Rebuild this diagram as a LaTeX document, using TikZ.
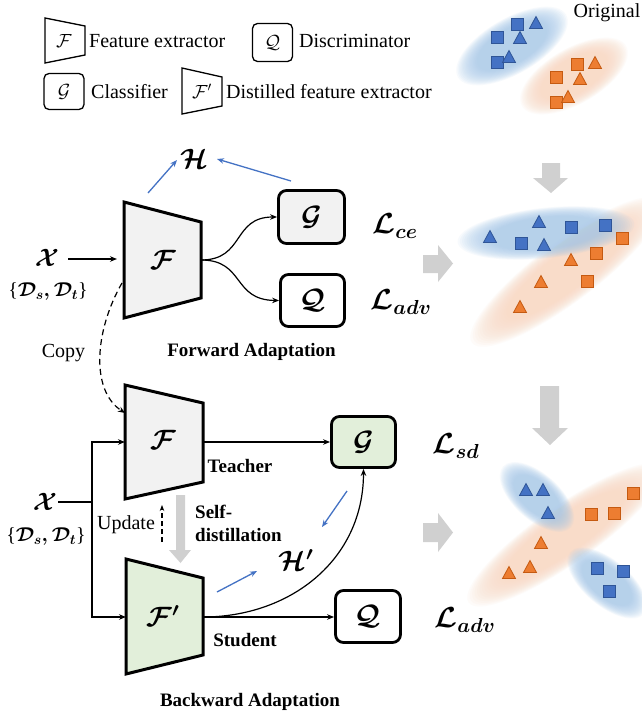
\RequirePackage{fix-cm}
\documentclass[tikz,border=0pt]{standalone}
\usepackage{amsmath}
\usepackage{fontspec}
\setmainfont{Liberation Serif}
\usetikzlibrary{arrows.meta}
\definecolor{grayfill}{HTML}{F2F2F2}
\definecolor{greenfill}{HTML}{E2EFDA}
\definecolor{arrowblue}{HTML}{4472C4}
\definecolor{mkblue}{HTML}{4472C4}
\definecolor{mkbluedark}{HTML}{2F5597}
\definecolor{mkorange}{HTML}{ED7D31}
\definecolor{mkorangedark}{HTML}{C55A11}
\definecolor{blobblue}{HTML}{A4C8EA}
\definecolor{bloborange}{HTML}{F9D6BF}
\definecolor{blockgray}{HTML}{D0D0D0}
\tikzset{
  txt/.style={font=\fontsize{20}{24}\selectfont, inner sep=0pt},
  btxt/.style={font=\fontsize{19}{23}\selectfont\bfseries, inner sep=0pt},
  bigmath/.style={font=\boldmath\fontsize{28}{32}\selectfont, inner sep=1pt},
  lossmath/.style={font=\boldmath\fontsize{29}{33}\selectfont, inner sep=1pt},
  midmath/.style={font=\boldmath\fontsize{25}{29}\selectfont, inner sep=1pt},
  setmath/.style={font=\boldmath\fontsize{20}{24}\selectfont, inner sep=0pt},
  smallmath/.style={font=\fontsize{19}{23}\selectfont, inner sep=0pt},
  trapline/.style={draw=black, line width=3pt, line join=miter},
  smalltrap/.style={draw=black, line width=1.3pt, line join=miter},
  bigbox/.style={draw=black, line width=2.8pt, rounded corners=8pt},
  smallbox/.style={draw=black, line width=1.3pt, rounded corners=5pt, minimum width=40pt, minimum height=38pt, inner sep=0pt, font=\fontsize{19}{23}\selectfont},
  conn/.style={draw=black, line width=1.2pt, -{Stealth[length=7pt,width=5.5pt]}},
  dashconn/.style={conn, dash pattern=on 6pt off 4pt},
  bluearr/.style={draw=arrowblue, line width=1.3pt, -{Stealth[length=7pt,width=5.5pt]}},
  bluemk/.style={fill=mkblue, draw=mkbluedark, line width=0.8pt},
  orangemk/.style={fill=mkorange, draw=mkorangedark, line width=0.8pt},
}
\newcommand\softblob[6]{%
  \foreach \sc in {1.2,1.17,...,0.74}{%
    \fill[#6, fill opacity=0.085, rotate around={#5:(#1,#2)}] (#1,#2) ellipse [x radius=\sc*#3pt, y radius=\sc*#4pt];
  }}
\newcommand\mksq[3]{\path[#3] (#1-6,#2-6) rectangle (#1+6,#2+6);}
\newcommand\mktri[3]{\path[#3] (#1-6.5,#2+5.5) -- (#1+6.5,#2+5.5) -- (#1,#2-6.5) -- cycle;}
\begin{document}
\begin{tikzpicture}[x=1pt,y=-1pt]
\useasboundingbox (0,0) rectangle (642,718);
\fill[white] (0,0) rectangle (642,718);

% ---------------- clusters (background blobs first) ----------------
\softblob{574}{76}{50}{23}{30}{bloborange}
\softblob{512}{46}{52}{23}{30}{blobblue}
\softblob{566}{272}{98}{25}{37}{bloborange}
\softblob{546}{233}{74}{21}{6}{blobblue}
\softblob{565}{535}{98}{24}{35}{bloborange}
\softblob{537}{497}{38}{19}{-42}{blobblue}
\softblob{607}{583}{40}{19}{-40}{blobblue}

% ---------------- legend ----------------
\draw[smalltrap] (45,18) -- (85,26) -- (85,55) -- (45,63) -- cycle;
\node[smallmath] (lgF) at (64,41) {$\mathcal{F}$};
\node[txt, anchor=west] (lgFt) at (89,41) {Feature extractor};
\node[smallbox] (lgQ) at (272.5,42.5) {$\mathcal{Q}$};
\node[txt, anchor=west] (lgQt) at (299,41) {Discriminator};
\node[smallbox, minimum height=36pt] (lgG) at (64,91.5) {$\mathcal{G}$};
\node[txt, anchor=west] (lgGt) at (91,92) {Classifier};
\draw[smalltrap] (182,68) -- (222,77) -- (222,106) -- (182,114) -- cycle;
\node[smallmath] (lgFp) at (202,91) {$\mathcal{F}'$};
\node[txt, anchor=west] (lgFpt) at (226,92) {Distilled feature extractor};

% ---------------- forward adaptation ----------------
\draw[trapline, fill=grayfill] (124,202) -- (201,222) -- (201,298) -- (124,318) -- cycle;
\node[bigmath] (Ff) at (163,260) {$\mathcal{F}$};
\coordinate (FfR) at (201,260);
\coordinate (FfIn) at (117,259);
\node[midmath] (Xf) at (47,258) {$\mathcal{X}$};
\node[setmath] (Df) at (48,292) {$\text{\{}\mathcal{D}_s,\mathcal{D}_t\text{\}}$};
\path (Xf.east) ++(8,1) coordinate (XfS);
\draw[conn] (XfS) -- (FfIn);
\node[bigbox, fill=grayfill, minimum width=66pt, minimum height=53pt, bigmath] (Gf) at (311.5,217) {$\mathcal{G}$};
\node[bigbox, fill=white, minimum width=64pt, minimum height=52pt, bigmath] (Qf) at (312.5,300.5) {$\mathcal{Q}$};
\draw[conn] (FfR) .. controls (245,260) and (232,217) .. (Gf.west);
\draw[conn] (FfR) .. controls (245,260) and (232,300) .. (Qf.west);
\node[lossmath] (Lce) at (395,226) {$\mathcal{L}_{ce}$};
\node[lossmath] (Ladvf) at (401,302) {$\mathcal{L}_{adv}$};
\node[bigmath] (H) at (194,159) {$\mathcal{H}$};
\coordinate (hA1) at (148,193);
\coordinate (hA2) at (177,160);
\coordinate (hB1) at (291,181);
\coordinate (hB2) at (217,159);
\draw[bluearr] (hA1) -- (hA2);
\draw[bluearr] (hB1) -- (hB2);
\node[txt] (copy) at (63.5,353) {Copy};
\node[btxt] (fwd) at (251.5,352) {Forward Adaptation};

% ---------------- backward adaptation ----------------
\draw[trapline, fill=grayfill] (125,385) -- (203,403) -- (203,482) -- (125,499) -- cycle;
\node[bigmath] (Ft) at (163,440) {$\mathcal{F}$};
\draw[trapline, fill=greenfill] (126,559) -- (203,578) -- (203,655) -- (126,674) -- cycle;
\node[bigmath] (Fs) at (163,616) {$\mathcal{F}'$};
\coordinate (copyS) at (122,283);
\coordinate (FtCopy) at (125,413);
\draw[dashconn] (copyS) .. controls (95,330) and (90,390) .. (FtCopy);
\coordinate (FtL) at (125,442);
\coordinate (FsL) at (126,617);
\coordinate (FtR) at (203,442);
\coordinate (FsR) at (203,617);
\node[midmath] (Xb) at (45,502) {$\mathcal{X}$};
\node[setmath] (Db) at (46,536) {$\text{\{}\mathcal{D}_s,\mathcal{D}_t\text{\}}$};
\coordinate (Jn) at (92,502);
\draw[line width=1.2pt] (Xb.east) -- (Jn);
\draw[conn] (Jn) |- (FtL);
\draw[conn] (Jn) |- (FsL);
\node[bigbox, fill=greenfill, minimum width=64pt, minimum height=51pt, bigmath] (Gb) at (363.5,442) {$\mathcal{G}$};
\node[bigbox, fill=white, minimum width=65pt, minimum height=52pt, bigmath] (Qb) at (368,616.5) {$\mathcal{Q}$};
\draw[conn] (FtR) -- (Gb.west |- FtR);
\draw[conn] (FsR) -- (Qb.west |- FsR);
\draw[conn] (FsR) .. controls (290,617) and (363.5,560) .. (Gb.south);
\node[btxt] (teacher) at (240,466) {Teacher};
\node[btxt] (student) at (245,640) {Student};
% gray self-distillation arrow
\fill[blockgray] (176,495) -- (185,495) -- (185,550) -- (191,550) -- (180.5,563) -- (169,550) -- (176,550) -- cycle;
\coordinate (upS) at (162,542);
\coordinate (upE) at (162,505);
\draw[conn, dash pattern=on 5pt off 3pt, -{Stealth[length=6pt,width=4.5pt]}] (upS) -- (upE);
\node[txt] (update) at (126,525) {Update};
\node[btxt, anchor=west] (self1) at (195,512) {Self-};
\node[btxt, anchor=west] (self2) at (195,535) {distillation};
\node[bigmath] (Hp) at (296,560) {$\mathcal{H}'$};
\coordinate (hC1) at (217,592);
\coordinate (hC2) at (257,571);
\coordinate (hD1) at (347,491);
\coordinate (hD2) at (322,527);
\draw[bluearr] (hC1) -- (hC2);
\draw[bluearr] (hD1) -- (hD2);
\node[lossmath] (Lsd) at (456,446) {$\mathcal{L}_{sd}$};
\node[lossmath] (Ladvb) at (465,620) {$\mathcal{L}_{adv}$};
\node[btxt] (bwd) at (250,702) {Backward Adaptation};

% ---------------- right column: gray block arrows ----------------
\fill[blockgray] (542,163) -- (560,163) -- (560,178) -- (568,178) -- (551,193) -- (533,178) -- (542,178) -- cycle;
\fill[blockgray] (540,386) -- (559,386) -- (559,428) -- (568,428) -- (550,445) -- (532,428) -- (540,428) -- cycle;
\fill[blockgray] (423,255) -- (438,255) -- (438,245) -- (453,263.5) -- (438,282) -- (438,273) -- (423,273) -- cycle;
\fill[blockgray] (423,523) -- (438,523) -- (438,513) -- (453,532.5) -- (438,552) -- (438,542) -- (423,542) -- cycle;

% ---------------- cluster markers ----------------
\node[txt] (orig) at (607,13) {Original};
\mksq{517}{24}{bluemk}\mksq{497}{37}{bluemk}\mksq{497}{62}{bluemk}
\mktri{536}{23}{bluemk}\mktri{520}{38}{bluemk}\mktri{509}{57}{bluemk}
\mksq{577}{64}{orangemk}\mksq{556}{77}{orangemk}\mksq{556}{102}{orangemk}
\mktri{595}{63}{orangemk}\mktri{580}{79}{orangemk}\mktri{568}{97}{orangemk}
\mktri{490}{237}{bluemk}\mktri{539}{222}{bluemk}\mktri{544}{245}{bluemk}
\mksq{521}{243}{bluemk}\mksq{571}{227}{bluemk}\mksq{605}{225}{bluemk}
\mksq{622}{238}{orangemk}\mksq{596}{253}{orangemk}\mksq{587}{281}{orangemk}
\mktri{571}{260}{orangemk}\mktri{541}{282}{orangemk}\mktri{520}{307}{orangemk}
\mktri{526}{490}{bluemk}\mktri{543}{490}{bluemk}\mktri{548}{513}{bluemk}
\mksq{597}{568}{bluemk}\mksq{623}{571}{bluemk}\mksq{609}{591}{bluemk}
\mksq{591}{514}{orangemk}\mksq{614}{513}{orangemk}\mksq{633}{493}{orangemk}
\mktri{541}{543}{orangemk}\mktri{530}{567}{orangemk}\mktri{509}{573}{orangemk}
\end{tikzpicture}
\end{document}
